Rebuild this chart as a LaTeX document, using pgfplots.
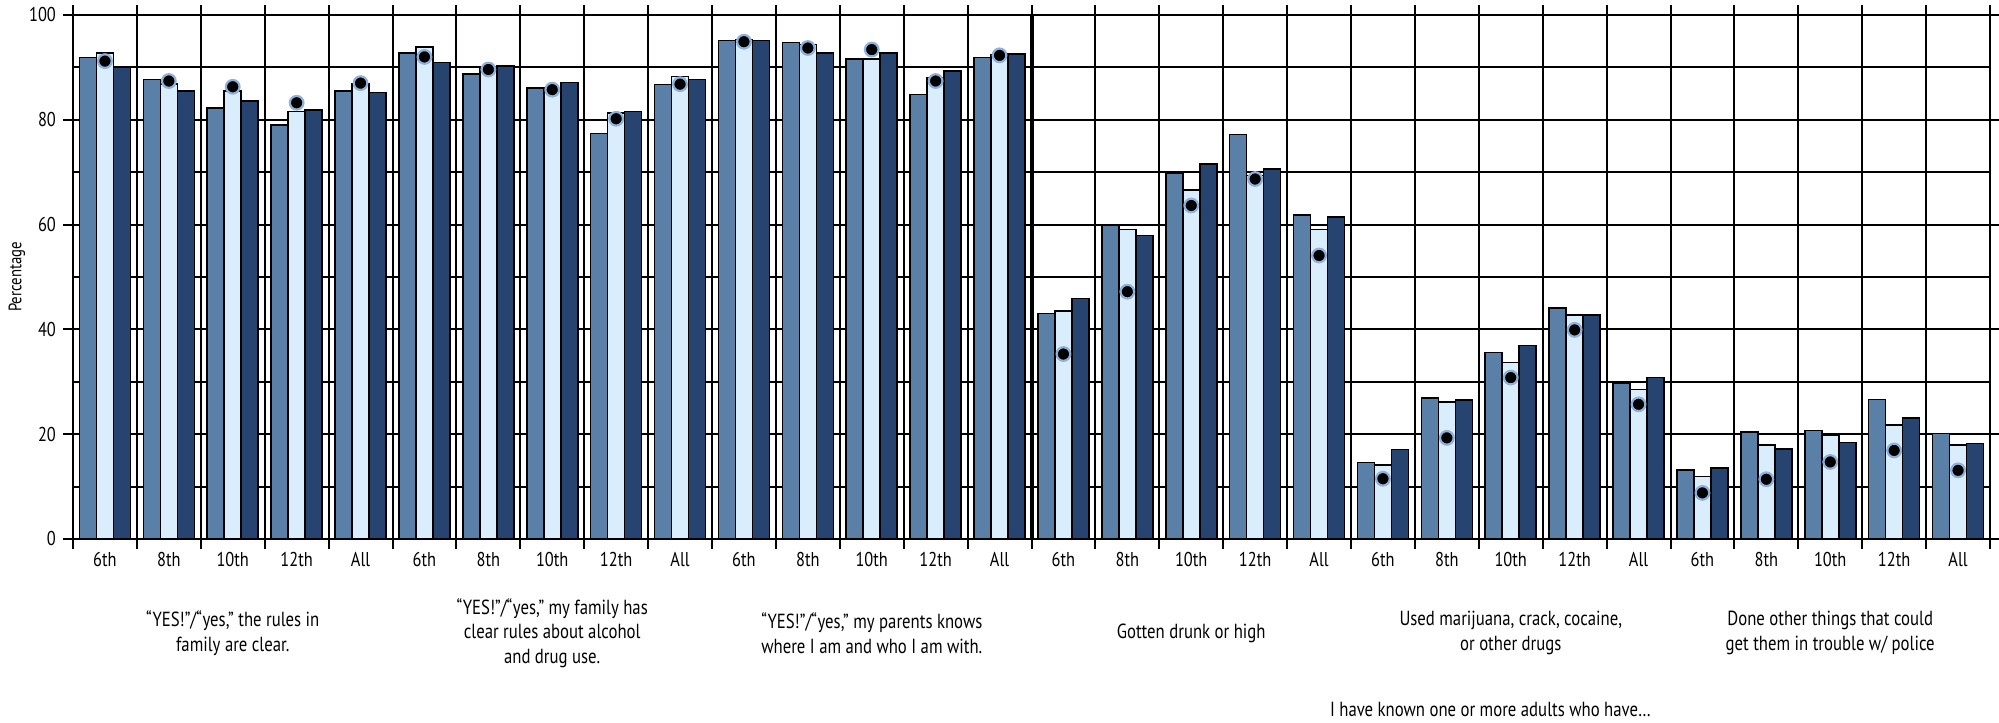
\documentclass[border=0pt]{standalone}
\usepackage{fontspec}
\setmainfont{PT Sans}[FakeStretch=0.82]
\usepackage{pgfplots}
\usepackage{pgfplotstable}
\pgfplotsset{compat=1.18}
\definecolor{cmed}{HTML}{5B80A8}
\definecolor{clight}{HTML}{DAEDFD}
\definecolor{cdark}{HTML}{26446F}
\definecolor{chalo}{HTML}{8FB0D8}

\pgfplotstableread{
x med light dark dot
0 91.9 92.8 90.0 91.2
1 87.7 86.8 85.5 87.4
2 82.25 85.5 83.6 86.3
3 79.0 81.6 81.9 83.25
4 85.5 86.8 85.2 87.0
5 92.8 93.9 90.9 92.0
6 88.7 89.9 90.3 89.6
7 86.1 86.0 87.1 85.75
8 77.4 81.25 81.6 80.2
9 86.75 88.3 87.7 86.8
10 95.1 95.3 95.1 94.9
11 94.75 94.4 92.8 93.7
12 91.6 91.6 92.8 93.4
13 84.8 88.1 89.3 87.4
14 91.9 92.4 92.5 92.3
15 43.0 43.5 45.9 35.3
16 59.8 59.1 57.9 47.2
17 69.9 66.6 71.6 63.65
18 77.2 69.4 70.6 68.7
19 61.8 59.1 61.5 54.1
20 14.6 14.1 17.1 11.5
21 26.9 26.1 26.5 19.3
22 35.6 33.7 36.9 30.8
23 44.1 42.7 42.8 39.9
24 29.7 28.5 30.8 25.7
25 13.2 11.9 13.5 8.8
26 20.4 17.9 17.2 11.4
27 20.7 19.8 18.4 14.7
28 26.6 21.7 23.1 16.9
29 20.1 17.9 18.2 13.1
}\data

\begin{document}
\begin{tikzpicture}
\begin{axis}[
  at={(0,0)}, anchor=south west,
  scale only axis, width=958.5pt, height=262pt,
  xmin=-0.5, xmax=29.5, ymin=0, ymax=100,
  xtick={-0.5,0.5,...,29.5}, xticklabels={},
  xmajorgrids,
  extra x ticks={0,1,...,29},
  extra x tick labels={6th,8th,10th,12th,All,6th,8th,10th,12th,All,6th,8th,10th,12th,All,6th,8th,10th,12th,All,6th,8th,10th,12th,All,6th,8th,10th,12th,All},
  extra x tick style={major tick length=0pt, grid=none, tick label style={yshift=-3pt}},
  ytick={0,20,...,100}, minor ytick={10,30,...,90},
  ymajorgrids, yminorgrids,
  tick align=outside, major tick length=5pt, minor tick length=0pt,
  tick style={line width=1pt, black},
  major grid style={line width=1pt, black},
  minor grid style={line width=1pt, black},
  axis line style={line width=1.2pt, black},
  ticklabel style={font=\fontsize{10}{12}\selectfont},
  /pgf/number format/assume math mode=true,
]
\addplot[ybar, bar width=0.266, bar shift=-0.266, fill=cmed, draw=black, line width=0.8pt] table[x=x,y=med]{\data};
\addplot[ybar, bar width=0.266, bar shift=0, fill=clight, draw=black, line width=0.8pt] table[x=x,y=light]{\data};
\addplot[ybar, bar width=0.266, bar shift=0.266, fill=cdark, draw=black, line width=0.8pt] table[x=x,y=dark]{\data};
\addplot[only marks, mark=*, mark size=3.4pt, mark options={fill=black, draw=chalo, line width=1.1pt}] table[x=x,y=dot]{\data};
\draw[line width=2pt, black] (axis cs:14.5,0) -- (axis cs:14.5,100);
\end{axis}
\begin{scope}[every node/.style={align=center, font=\fontsize{10.2}{12.2}\selectfont}]
\node at (79.9pt,-47pt) {“YES!”/“yes,” the rules in\\family are clear.};
\node at (239.6pt,-47pt) {“YES!”/“yes,” my family has\\clear rules about alcohol\\and drug use.};
\node at (399.4pt,-47pt) {“YES!”/“yes,” my parents knows\\where I am and who I am with.};
\node at (559.1pt,-47pt) {Gotten drunk or high};
\node at (718.9pt,-47pt) {Used marijuana, crack, cocaine,\\or other drugs};
\node at (878.6pt,-47pt) {Done other things that could\\get them in trouble w/ police};
\node[anchor=west] at (625pt,-85pt) {I have known one or more adults who have…};
\node[rotate=90, font=\fontsize{9}{10}\selectfont] at (-28pt,131pt) {Percentage};
\end{scope}
\pgfresetboundingbox
\useasboundingbox (-36.5pt,-92pt) rectangle (963pt,269.5pt);
\end{tikzpicture}
\end{document}
